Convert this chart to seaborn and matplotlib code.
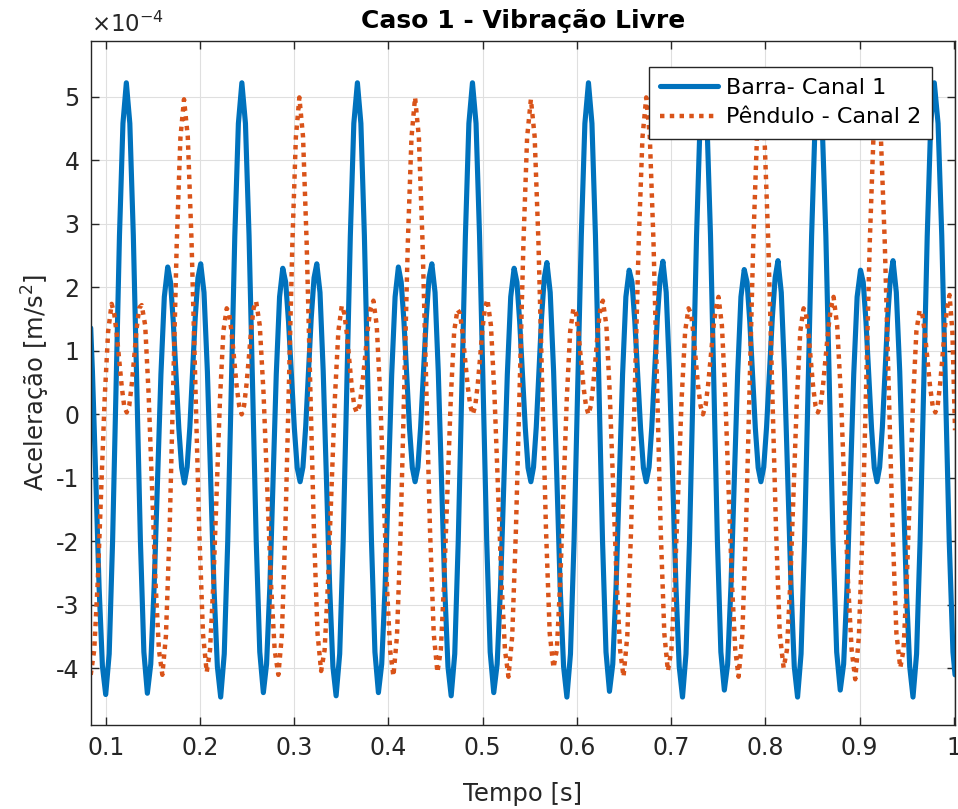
import numpy as np
import pandas as pd
import matplotlib
matplotlib.use("Agg")
import matplotlib.pyplot as plt
import seaborn as sns
from matplotlib.ticker import FixedLocator, FuncFormatter

# ---------------- data (acceleration in units of 1e-4 m/s^2) ----------------
SCALE = 1e-4

blue_t = [0.0841, 0.0859, 0.0895, 0.0930, 0.0965, 0.1000,
          0.1037, 0.1073, 0.1110, 0.1146, 0.1183, 0.1219,
          0.1256, 0.1293, 0.1331, 0.1368, 0.1405, 0.1442,
          0.1478, 0.1514, 0.1550, 0.1586, 0.1622, 0.1658,
          0.1688, 0.1717, 0.1747, 0.1776, 0.1806, 0.1835,
          0.1864, 0.1893, 0.1922, 0.1950, 0.1979, 0.2008,
          0.2043, 0.2079, 0.2114, 0.2149, 0.2185, 0.2220,
          0.2258, 0.2295, 0.2333, 0.2370, 0.2408, 0.2445,
          0.2483, 0.2521, 0.2559, 0.2597, 0.2635, 0.2673,
          0.2707, 0.2742, 0.2776, 0.2810, 0.2845, 0.2879,
          0.2910, 0.2940, 0.2971, 0.3002, 0.3032, 0.3063,
          0.3093, 0.3122, 0.3152, 0.3181, 0.3211, 0.3240,
          0.3274, 0.3308, 0.3343, 0.3377, 0.3411, 0.3445,
          0.3483, 0.3520, 0.3558, 0.3596, 0.3633, 0.3671,
          0.3708, 0.3745, 0.3783, 0.3820, 0.3857, 0.3894,
          0.3929, 0.3965, 0.4000, 0.4035, 0.4071, 0.4106,
          0.4136, 0.4165, 0.4195, 0.4224, 0.4254, 0.4283,
          0.4313, 0.4342, 0.4372, 0.4402, 0.4431, 0.4461,
          0.4495, 0.4529, 0.4564, 0.4598, 0.4632, 0.4666,
          0.4704, 0.4741, 0.4779, 0.4817, 0.4854, 0.4892,
          0.4930, 0.4967, 0.5005, 0.5043, 0.5080, 0.5118,
          0.5154, 0.5190, 0.5226, 0.5262, 0.5298, 0.5334,
          0.5364, 0.5393, 0.5423, 0.5453, 0.5482, 0.5512,
          0.5540, 0.5569, 0.5597, 0.5625, 0.5654, 0.5682,
          0.5717, 0.5753, 0.5788, 0.5823, 0.5859, 0.5894,
          0.5932, 0.5970, 0.6009, 0.6047, 0.6085, 0.6123,
          0.6160, 0.6197, 0.6235, 0.6272, 0.6309, 0.6346,
          0.6381, 0.6416, 0.6451, 0.6485, 0.6520, 0.6555,
          0.6585, 0.6615, 0.6646, 0.6676, 0.6706, 0.6736,
          0.6766, 0.6795, 0.6825, 0.6854, 0.6884, 0.6913,
          0.6948, 0.6982, 0.7017, 0.7052, 0.7086, 0.7121,
          0.7158, 0.7195, 0.7233, 0.7270, 0.7307, 0.7344,
          0.7381, 0.7418, 0.7455, 0.7491, 0.7528, 0.7565,
          0.7600, 0.7635, 0.7671, 0.7706, 0.7741, 0.7776,
          0.7806, 0.7835, 0.7865, 0.7894, 0.7924, 0.7953,
          0.7983, 0.8013, 0.8044, 0.8074, 0.8104, 0.8134,
          0.8169, 0.8203, 0.8238, 0.8273, 0.8307, 0.8342,
          0.8379, 0.8416, 0.8454, 0.8491, 0.8528, 0.8565,
          0.8603, 0.8642, 0.8680, 0.8718, 0.8757, 0.8795,
          0.8831, 0.8867, 0.8903, 0.8938, 0.8974, 0.9010,
          0.9039, 0.9068, 0.9098, 0.9127, 0.9156, 0.9185,
          0.9213, 0.9242, 0.9270, 0.9298, 0.9327, 0.9355,
          0.9390, 0.9426, 0.9461, 0.9496, 0.9532, 0.9567,
          0.9605, 0.9642, 0.9680, 0.9718, 0.9755, 0.9793,
          0.9833, 0.9872, 0.9912, 0.9951, 0.9991, 1.0013]

blue_v = [1.36, 0.68, -1.02, -2.73, -3.96, -4.41,
          -3.77, -2.00, 0.41, 2.81, 4.58, 5.22,
          4.58, 2.82, 0.42, -1.98, -3.74, -4.39,
          -3.93, -2.71, -1.04, 0.63, 1.85, 2.32,
          2.08, 1.46, 0.62, -0.22, -0.84, -1.08,
          -0.83, -0.20, 0.66, 1.52, 2.15, 2.37,
          1.92, 0.68, -1.03, -2.73, -3.97, -4.45,
          -3.77, -2.00, 0.41, 2.81, 4.58, 5.22,
          4.58, 2.82, 0.42, -1.98, -3.74, -4.38,
          -3.93, -2.71, -1.04, 0.63, 1.85, 2.30,
          2.08, 1.46, 0.62, -0.22, -0.84, -1.06,
          -0.83, -0.20, 0.66, 1.52, 2.15, 2.37,
          1.92, 0.68, -1.03, -2.73, -3.97, -4.43,
          -3.77, -2.00, 0.41, 2.81, 4.58, 5.22,
          4.58, 2.82, 0.42, -1.98, -3.74, -4.38,
          -3.93, -2.71, -1.04, 0.63, 1.85, 2.32,
          2.08, 1.46, 0.62, -0.22, -0.84, -1.06,
          -0.83, -0.20, 0.66, 1.52, 2.15, 2.37,
          1.92, 0.68, -1.03, -2.73, -3.97, -4.43,
          -3.77, -2.00, 0.41, 2.81, 4.58, 5.22,
          4.58, 2.82, 0.42, -1.98, -3.74, -4.38,
          -3.93, -2.71, -1.04, 0.63, 1.85, 2.30,
          2.08, 1.46, 0.62, -0.22, -0.84, -1.06,
          -0.83, -0.20, 0.66, 1.52, 2.15, 2.39,
          1.92, 0.68, -1.03, -2.73, -3.97, -4.45,
          -3.77, -2.00, 0.41, 2.81, 4.58, 5.22,
          4.58, 2.82, 0.42, -1.98, -3.74, -4.36,
          -3.93, -2.71, -1.04, 0.63, 1.85, 2.27,
          2.08, 1.46, 0.62, -0.22, -0.84, -1.06,
          -0.83, -0.20, 0.66, 1.52, 2.15, 2.41,
          1.92, 0.68, -1.03, -2.73, -3.97, -4.45,
          -3.77, -2.00, 0.41, 2.81, 4.58, 5.22,
          4.58, 2.82, 0.42, -1.98, -3.74, -4.34,
          -3.93, -2.71, -1.04, 0.63, 1.85, 2.28,
          2.08, 1.46, 0.62, -0.22, -0.84, -1.06,
          -0.83, -0.20, 0.66, 1.52, 2.15, 2.42,
          1.92, 0.68, -1.03, -2.73, -3.97, -4.45,
          -3.77, -2.00, 0.41, 2.81, 4.58, 5.22,
          4.58, 2.82, 0.42, -1.98, -3.74, -4.34,
          -3.93, -2.71, -1.04, 0.63, 1.85, 2.27,
          2.08, 1.46, 0.62, -0.22, -0.84, -1.06,
          -0.83, -0.20, 0.66, 1.52, 2.15, 2.42,
          1.92, 0.68, -1.03, -2.73, -3.97, -4.45,
          -3.77, -2.00, 0.41, 2.81, 4.58, 5.22,
          4.58, 2.82, 0.42, -1.98, -3.74, -4.10]

red_t = [0.0841,
         0.0878, 0.0915, 0.0952, 0.0989, 0.1026, 0.1063,
         0.1090, 0.1116, 0.1143, 0.1170, 0.1196, 0.1223,
         0.1250, 0.1276, 0.1303, 0.1329, 0.1356, 0.1382,
         0.1419, 0.1455, 0.1492, 0.1528, 0.1565, 0.1601,
         0.1639, 0.1678, 0.1716, 0.1754, 0.1793, 0.1831,
         0.1871, 0.1911, 0.1952, 0.1992, 0.2032, 0.2072,
         0.2107, 0.2143, 0.2178, 0.2213, 0.2249, 0.2284,
         0.2311, 0.2337, 0.2364, 0.2390, 0.2417, 0.2443,
         0.2469, 0.2494, 0.2520, 0.2545, 0.2571, 0.2596,
         0.2635, 0.2675, 0.2714, 0.2753, 0.2793, 0.2832,
         0.2869, 0.2906, 0.2944, 0.2981, 0.3018, 0.3055,
         0.3094, 0.3132, 0.3171, 0.3209, 0.3248, 0.3286,
         0.3323, 0.3359, 0.3396, 0.3432, 0.3469, 0.3505,
         0.3532, 0.3558, 0.3585, 0.3611, 0.3638, 0.3664,
         0.3694, 0.3723, 0.3753, 0.3782, 0.3812, 0.3841,
         0.3876, 0.3912, 0.3947, 0.3982, 0.4018, 0.4053,
         0.4091, 0.4130, 0.4168, 0.4206, 0.4245, 0.4283,
         0.4323, 0.4362, 0.4402, 0.4441, 0.4481, 0.4520,
         0.4556, 0.4591, 0.4627, 0.4662, 0.4698, 0.4733,
         0.4760, 0.4787, 0.4815, 0.4842, 0.4869, 0.4896,
         0.4922, 0.4948, 0.4974, 0.4999, 0.5025, 0.5051,
         0.5088, 0.5125, 0.5163, 0.5200, 0.5237, 0.5274,
         0.5314, 0.5353, 0.5393, 0.5433, 0.5472, 0.5512,
         0.5552, 0.5592, 0.5632, 0.5672, 0.5712, 0.5752,
         0.5787, 0.5823, 0.5858, 0.5893, 0.5929, 0.5964,
         0.5991, 0.6017, 0.6044, 0.6070, 0.6097, 0.6123,
         0.6149, 0.6174, 0.6200, 0.6225, 0.6251, 0.6276,
         0.6313, 0.6349, 0.6386, 0.6422, 0.6459, 0.6495,
         0.6535, 0.6575, 0.6616, 0.6656, 0.6696, 0.6736,
         0.6774, 0.6813, 0.6851, 0.6889, 0.6928, 0.6966,
         0.7003, 0.7039, 0.7076, 0.7112, 0.7149, 0.7185,
         0.7211, 0.7236, 0.7262, 0.7287, 0.7313, 0.7338,
         0.7366, 0.7393, 0.7421, 0.7448, 0.7476, 0.7503,
         0.7539, 0.7574, 0.7610, 0.7645, 0.7681, 0.7716,
         0.7755, 0.7794, 0.7833, 0.7872, 0.7911, 0.7950,
         0.7991, 0.8031, 0.8072, 0.8113, 0.8153, 0.8194,
         0.8229, 0.8265, 0.8300, 0.8335, 0.8371, 0.8406,
         0.8431, 0.8457, 0.8482, 0.8507, 0.8533, 0.8558,
         0.8586, 0.8613, 0.8641, 0.8669, 0.8696, 0.8724,
         0.8762, 0.8801, 0.8839, 0.8877, 0.8916, 0.8954,
         0.8993, 0.9031, 0.9070, 0.9108, 0.9147, 0.9185,
         0.9226, 0.9267, 0.9309, 0.9350, 0.9391, 0.9432,
         0.9466, 0.9500, 0.9535, 0.9569, 0.9603, 0.9637,
         0.9665, 0.9693, 0.9721, 0.9748, 0.9776, 0.9804,
         0.9829, 0.9854, 0.9880, 0.9905, 0.9930, 0.9955,
         0.9985, 1.0013]

red_v = [-4.10,
         -3.71, -2.65, -1.20, 0.25, 1.31, 1.74,
         1.59, 1.28, 0.86, 0.44, 0.13, 0.03,
         0.14, 0.47, 0.91, 1.36, 1.68, 1.72,
         1.40, 0.33, -1.15, -2.63, -3.71, -4.10,
         -3.49, -1.83, 0.44, 2.70, 4.36, 4.96,
         4.37, 2.72, 0.46, -1.80, -3.45, -4.06,
         -3.71, -2.65, -1.20, 0.25, 1.31, 1.67,
         1.59, 1.28, 0.86, 0.44, 0.13, 0.00,
         0.14, 0.47, 0.91, 1.36, 1.68, 1.78,
         1.40, 0.33, -1.15, -2.63, -3.71, -4.10,
         -3.49, -1.83, 0.44, 2.70, 4.36, 4.99,
         4.37, 2.72, 0.46, -1.80, -3.45, -4.04,
         -3.71, -2.65, -1.20, 0.25, 1.31, 1.71,
         1.59, 1.28, 0.86, 0.44, 0.13, 0.03,
         0.14, 0.47, 0.91, 1.36, 1.68, 1.79,
         1.40, 0.33, -1.15, -2.63, -3.71, -4.12,
         -3.49, -1.83, 0.44, 2.70, 4.36, 4.99,
         4.37, 2.72, 0.46, -1.80, -3.45, -4.06,
         -3.71, -2.65, -1.20, 0.25, 1.31, 1.65,
         1.59, 1.28, 0.86, 0.44, 0.13, 0.00,
         0.14, 0.47, 0.91, 1.36, 1.68, 1.81,
         1.40, 0.33, -1.15, -2.63, -3.71, -4.13,
         -3.49, -1.83, 0.44, 2.70, 4.36, 4.96,
         4.37, 2.72, 0.46, -1.80, -3.45, -3.99,
         -3.71, -2.65, -1.20, 0.25, 1.31, 1.67,
         1.59, 1.28, 0.86, 0.44, 0.13, 0.00,
         0.14, 0.47, 0.91, 1.36, 1.68, 1.79,
         1.40, 0.33, -1.15, -2.63, -3.71, -4.13,
         -3.49, -1.83, 0.44, 2.70, 4.36, 4.99,
         4.37, 2.72, 0.46, -1.80, -3.45, -4.04,
         -3.71, -2.65, -1.20, 0.25, 1.31, 1.67,
         1.59, 1.28, 0.86, 0.44, 0.13, 0.00,
         0.14, 0.47, 0.91, 1.36, 1.68, 1.85,
         1.40, 0.33, -1.15, -2.63, -3.71, -4.13,
         -3.49, -1.83, 0.44, 2.70, 4.36, 4.96,
         4.37, 2.72, 0.46, -1.80, -3.45, -3.99,
         -3.71, -2.65, -1.20, 0.25, 1.31, 1.67,
         1.59, 1.28, 0.86, 0.44, 0.13, 0.03,
         0.14, 0.47, 0.91, 1.36, 1.68, 1.85,
         1.40, 0.33, -1.15, -2.63, -3.71, -4.17,
         -3.49, -1.83, 0.44, 2.70, 4.36, 4.96,
         4.37, 2.72, 0.46, -1.80, -3.45, -3.99,
         -3.71, -2.65, -1.20, 0.25, 1.31, 1.64,
         1.59, 1.28, 0.86, 0.44, 0.13, 0.03,
         0.14, 0.47, 0.91, 1.36, 1.68, 1.88,
         1.30, -0.25]

series_labels = ["Barra- Canal 1", "Pêndulo - Canal 2"]
x_ticks = [0.1, 0.2, 0.3, 0.4, 0.5, 0.6, 0.7, 0.8, 0.9, 1.0]
y_ticks = [-4, -3, -2, -1, 0, 1, 2, 3, 4, 5]

# ---------------- style ----------------
sns.set_theme(style="whitegrid")
plt.rcParams["font.family"] = ["DejaVu Sans"]
plt.rcParams["axes.unicode_minus"] = False

TXT = "#262626"
BLUE = "#0072BD"
RED = "#D95319"

fig = plt.figure(figsize=(9.58, 8.09), dpi=100)
ax = fig.add_axes([0.0947, 0.1038, 0.9022, 0.8461])
ax.set_facecolor("white")

df_b = pd.DataFrame({"Tempo": blue_t, "Acel": np.array(blue_v) * SCALE})
df_r = pd.DataFrame({"Tempo": red_t, "Acel": np.array(red_v) * SCALE})

sns.lineplot(data=df_b, x="Tempo", y="Acel", ax=ax, color=BLUE, linewidth=3.7,
             solid_joinstyle="round", estimator=None, sort=False,
             label=series_labels[0])
sns.lineplot(data=df_r, x="Tempo", y="Acel", ax=ax, color=RED, linewidth=3.2,
             linestyle=(0, (1, 1.2)), estimator=None, sort=False,
             label=series_labels[1])

ax.set_xlim(0.0841, 1.0013)
ax.set_ylim(-4.89 * SCALE, 5.885 * SCALE)
ax.xaxis.set_major_locator(FixedLocator(x_ticks))
ax.yaxis.set_major_locator(FixedLocator([v * SCALE for v in y_ticks]))
ax.xaxis.set_major_formatter(FuncFormatter(lambda v, _: f"{v:g}"))
ax.yaxis.set_major_formatter(FuncFormatter(lambda v, _: f"{v / SCALE:.0f}"))

ax.grid(True, color="#DFDFDF", linewidth=0.8)
for s in ax.spines.values():
    s.set_visible(True)
    s.set_color(TXT)
    s.set_linewidth(1.0)
ax.tick_params(axis="both", which="major", direction="in", length=5.5, width=1.0,
               color=TXT, labelcolor=TXT, labelsize=17, pad=8,
               top=True, right=True, bottom=True, left=True)

ax.set_xlabel("Tempo [s]", fontsize=17.5, color=TXT, labelpad=16)
ax.set_ylabel("Aceleração [m/s$^2$]", fontsize=17.5, color=TXT, labelpad=3)
ax.set_title("Caso 1 - Vibração Livre", fontsize=18, fontweight="bold",
             color="black", pad=9)

ax.text(0.0, 1.005, r"$\times10^{-4}$", transform=ax.transAxes,
        fontsize=16.5, color=TXT, ha="left", va="bottom")

leg = ax.legend(loc="upper right", bbox_to_anchor=(0.9734, 0.9613),
                borderaxespad=0, fontsize=16, frameon=True, fancybox=False,
                framealpha=1, edgecolor=TXT, handlelength=2.6,
                handletextpad=0.35, labelspacing=0.42, borderpad=0.5)
leg.get_frame().set_linewidth(1.0)
for t in leg.get_texts():
    t.set_color("black")

fig.savefig("out.png", dpi=100)
